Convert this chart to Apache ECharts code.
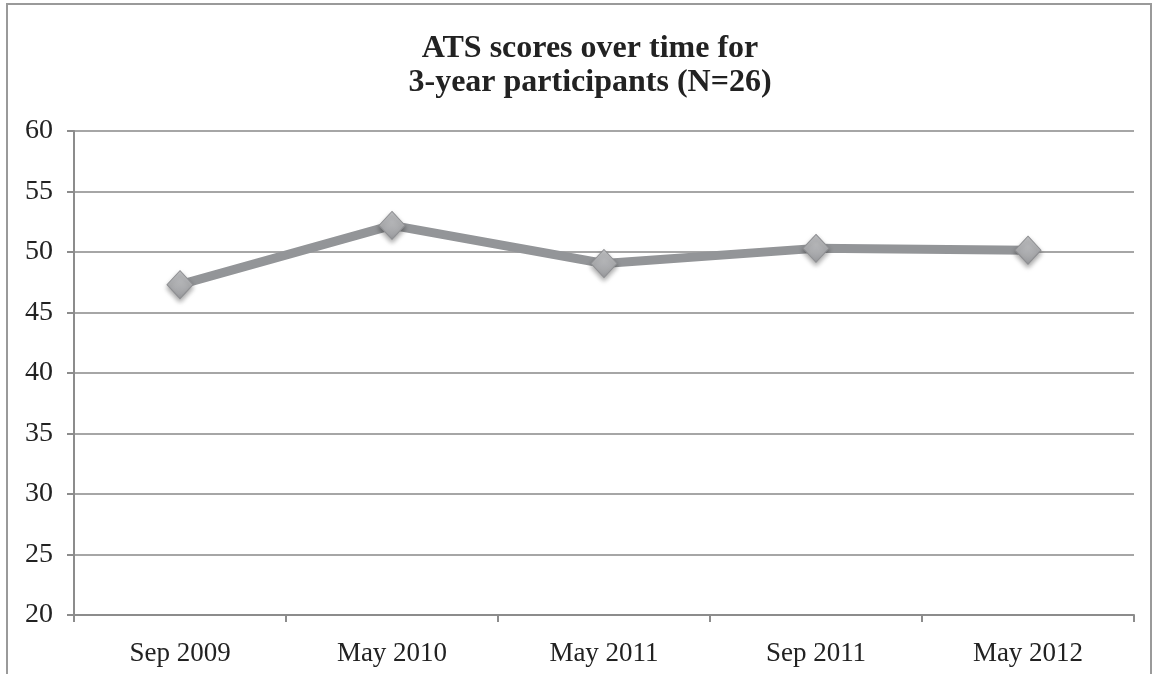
<!DOCTYPE html>
<html>
<head>
<meta charset="utf-8">
<script src="https://cdn.jsdelivr.net/npm/echarts@6/dist/echarts.min.js"></script>
<style>
  html, body { margin: 0; padding: 0; background: #fff; }
  #frame {
    position: absolute; left: 6px; top: 3px; width: 1142px; height: 680px;
    border: 2px solid #9a9a9a; border-bottom: none;
  }
  #chart { position: absolute; left: 0; top: 0; width: 1155px; height: 674px; }
</style>
</head>
<body>
<div id="frame"></div>
<div id="chart"></div>
<script>
const categories = ['Sep 2009', 'May 2010', 'May 2011', 'Sep 2011', 'May 2012']
const scores = [47.3, 52.2, 49.05, 50.3, 50.15]
const yMin = 20
const yMax = 60
const yStep = 5

const chart = echarts.init(document.getElementById('chart'))
const serif = '"Liberation Serif", "DejaVu Serif", serif'

chart.setOption({
  animation: false,
  title: {
    text: 'ATS scores over time for\n3-year participants (N=26)',
    left: 585,
    textAlign: 'center',
    top: 27,
    textStyle: {
      fontFamily: serif,
      fontWeight: 'bold',
      fontSize: 32,
      lineHeight: 34,
      color: '#222'
    }
  },
  grid: {
    left: 74,
    right: 21,
    top: 131,
    bottom: 59
  },
  xAxis: {
    type: 'category',
    data: categories,
    axisLine: { lineStyle: { color: '#8c8c8c', width: 2 } },
    axisTick: { show: true, length: 7, lineStyle: { color: '#8c8c8c', width: 2 } },
    axisLabel: {
      fontFamily: serif,
      fontSize: 27,
      color: '#222',
      margin: 25
    }
  },
  yAxis: {
    type: 'value',
    min: yMin,
    max: yMax,
    interval: yStep,
    axisLine: { show: true, lineStyle: { color: '#8c8c8c', width: 2 } },
    axisTick: { show: true, length: 7, lineStyle: { color: '#8c8c8c', width: 2 } },
    axisLabel: {
      fontFamily: serif,
      fontSize: 28,
      color: '#222',
      margin: 21
    },
    splitLine: { lineStyle: { color: '#a6a6a6', width: 2 } }
  },
  series: [{
    type: 'line',
    data: scores,
    symbol: 'diamond',
    symbolSize: [26, 28],
    lineStyle: { color: '#939598', width: 9 },
    itemStyle: {
      color: new echarts.graphic.LinearGradient(0, 0, 0, 1, [
        { offset: 0, color: '#c4c5c7' },
        { offset: 1, color: '#9c9da0' }
      ]),
      borderColor: '#8e8f92',
      borderWidth: 1,
      shadowColor: 'rgba(0,0,0,0.35)',
      shadowBlur: 5,
      shadowOffsetY: 3
    }
  }]
})
</script>
</body>
</html>
